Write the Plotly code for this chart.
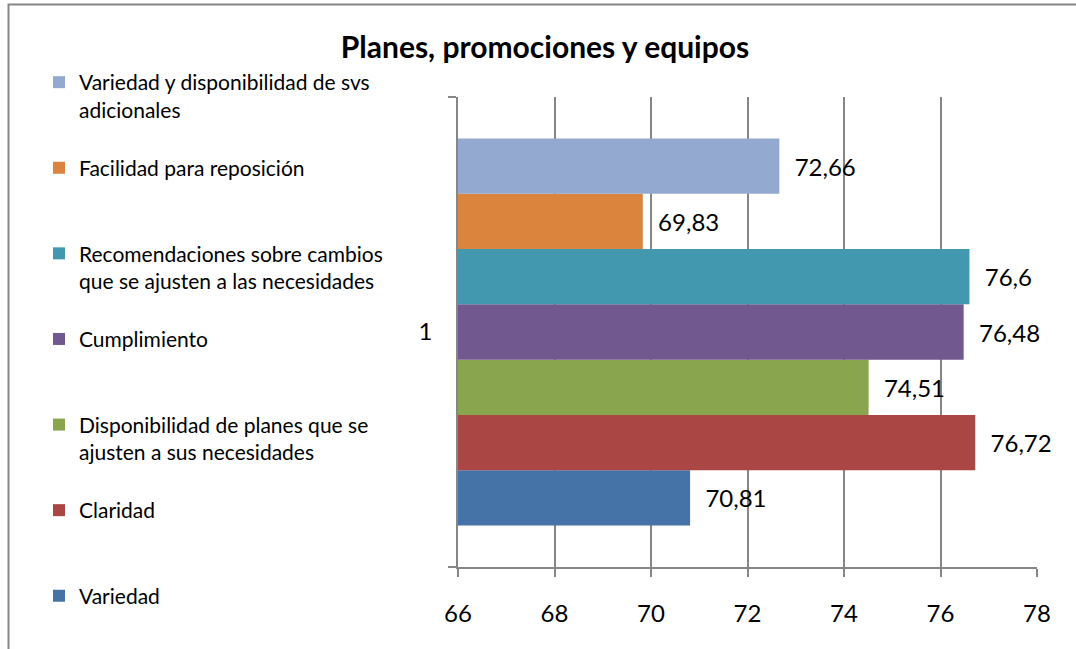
import plotly.graph_objects as go

# Series values (single category "1")
categoria = ["1"]
series = [
    "Variedad",
    "Claridad",
    "Disponibilidad de planes que se<br>ajusten a sus necesidades",
    "Cumplimiento",
    "Recomendaciones sobre cambios<br>que se ajusten a las necesidades",
    "Facilidad para reposición",
    "Variedad y disponibilidad de svs<br>adicionales",
]
valores = [70.81, 76.72, 74.51, 76.48, 76.6, 69.83, 72.66]
colores = ["#4572A7", "#AA4643", "#89A54E", "#71588F", "#4198AF", "#DB843D", "#93A9CF"]

FONT = "Lato"
W, H = 1076, 649
L, R, T, B = 458, 1037, 97, 567

fig = go.Figure()

for i, (nombre, v, c) in enumerate(zip(series, valores, colores)):
    if "<br>" not in nombre:
        nombre = nombre + "<br> "
    fig.add_trace(go.Bar(
        y=categoria, x=[v], name=nombre, orientation="h",
        marker=dict(color=c, line=dict(width=0)),
        text=["\u00a0\u00a0" + str(v).replace(".", ",")],
        textposition="outside", constraintext="none", cliponaxis=False,
        textfont=dict(family=FONT, size=24, color="#000000"),
        legendgroup="g%d" % i, legendrank=100 - i,
    ))

# chart border (Excel chart frame, cut off on the right and bottom)
fig.add_shape(type="rect", xref="paper", yref="paper",
              x0=(8.5 - L) / (R - L), x1=(W + 20 - L) / (R - L),
              y0=(B - 4.5) / (B - T), y1=(B - H - 20) / (B - T),
              line=dict(color="#878787", width=2), fillcolor="rgba(0,0,0,0)", layer="below")

fig.update_layout(
    width=W, height=H,
    margin=dict(l=L, r=W - R, t=T, b=H - B),
    paper_bgcolor="white", plot_bgcolor="white",
    barmode="group", bargap=0.177, bargroupgap=0,
    title=dict(text="<b>Planes, promociones y equipos</b>",
               x=545 / W, xanchor="center", xref="container",
               y=1 - 47 / H, yanchor="middle", yref="container",
               font=dict(family=FONT, size=30, color="#000000")),
    font=dict(family=FONT, size=22, color="#000000"),
    xaxis=dict(range=[66, 78], dtick=2, tick0=66,
               showgrid=True, gridcolor="#868686", gridwidth=1.5,
               showline=True, linecolor="#868686", linewidth=1.5,
               ticks="outside", ticklen=8, tickcolor="#868686", tickwidth=1.5,
               ticklabelstandoff=16, zeroline=False,
               tickfont=dict(family=FONT, size=24, color="#000000")),
    yaxis=dict(range=[-0.5, 0.5], showline=True, linecolor="#868686", linewidth=1.5,
               ticks="outside", ticklen=8, tickcolor="#868686", tickwidth=1.5,
               tickson="boundaries", showgrid=False, ticklabelstandoff=19,
               tickfont=dict(family=FONT, size=24, color="#000000")),
    showlegend=True,
    legend=dict(x=(39 - L) / (R - L), xanchor="left",
                y=(B - 62) / (B - T), yanchor="top",
                traceorder="grouped", tracegroupgap=28, valign="top",
                maxheight=640,
                font=dict(family=FONT, size=21, color="#000000"),
                bgcolor="rgba(0,0,0,0)"),
)

fig.write_html("out.html", config={"displayModeBar": False},
               post_script="document.body.style.margin='0';")
